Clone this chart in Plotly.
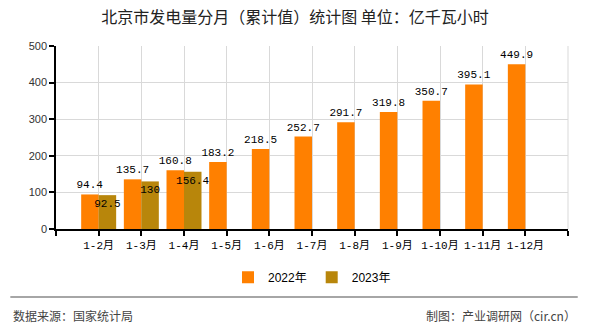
import plotly.graph_objects as go

categories = ["1-2月", "1-3月", "1-4月", "1-5月", "1-6月", "1-7月", "1-8月", "1-9月", "1-10月", "1-11月", "1-12月"]
values_2022 = [94.4, 135.7, 160.8, 183.2, 218.5, 252.7, 291.7, 319.8, 350.7, 395.1, 449.9]
values_2023 = [92.5, 130, 156.4, None, None, None, None, None, None, None, None]
series_names = ["2022年", "2023年"]
y_ticks = [0, 100, 200, 300, 400, 500]

x_pos = list(range(len(categories)))

def fmt(v):
    if v is None:
        return ""
    return ("%g" % v)

label_font = dict(family="Liberation Mono, Noto Sans CJK SC, monospace", size=11, color="#000000")

fig = go.Figure()
fig.add_trace(go.Bar(
    x=x_pos, y=values_2022, name=series_names[0],
    marker=dict(color="#FF8000", line=dict(width=0)),
    text=[fmt(v) for v in values_2022], textposition="outside", textangle=0,
    textfont=label_font, constraintext="none", cliponaxis=False,
))
fig.add_trace(go.Bar(
    x=x_pos, y=values_2023, name=series_names[1],
    marker=dict(color="#B8860B", line=dict(width=0)),
    text=[fmt(v) for v in values_2023], textposition="inside", insidetextanchor="end", textangle=0,
    textfont=label_font, constraintext="none", cliponaxis=False,
))

tickvals = [-1] + x_pos + [len(categories)]
ticktext = [""] + categories + [""]

fig.update_layout(
    width=590, height=330,
    margin=dict(l=56, r=22, t=46, b=101, pad=0),
    paper_bgcolor="white", plot_bgcolor="white",
    barmode="group", bargap=0.18, bargroupgap=0,
    title=dict(
        text="北京市发电量分月（累计值）统计图 单位：亿千瓦小时",
        x=0.5, xanchor="center", y=1 - 17 / 330, yanchor="middle", yref="container",
        font=dict(family="Noto Sans CJK SC", size=16, color="#222222"),
    ),
    xaxis=dict(
        range=[-1, len(categories)], tickmode="array", tickvals=tickvals, ticktext=ticktext,
        tickangle=0,
        showgrid=True, gridcolor="#d9d9d9", gridwidth=1,
        showline=True, linecolor="#000000", linewidth=1.5,
        ticks="outside", ticklen=5, tickcolor="#000000", tickwidth=1.5,
        tickfont=dict(family="Liberation Mono, Noto Sans CJK SC", size=11, color="#000000"),
        zeroline=False, fixedrange=True,
    ),
    yaxis=dict(
        range=[0, 500], tickmode="array", tickvals=y_ticks,
        showgrid=True, gridcolor="#d9d9d9", gridwidth=1,
        showline=True, linecolor="#000000", linewidth=1.5,
        ticks="outside", ticklen=5, tickcolor="#000000", tickwidth=1.5,
        tickfont=dict(family="Liberation Sans, Arial", size=11, color="#333333"),
        zeroline=False, fixedrange=True,
    ),
    legend=dict(
        orientation="h", x=0.5, xanchor="center", y=-0.263, yanchor="middle",
        font=dict(family="Liberation Sans, Noto Sans CJK SC", size=12, color="#000000"),
        itemwidth=30, bgcolor="rgba(0,0,0,0)",
    ),
    showlegend=True,
)

# right border line
fig.add_shape(type="line", xref="paper", yref="paper", x0=1, x1=1, y0=0, y1=1,
              line=dict(color="#d9d9d9", width=1))

# footer separator
fig.add_shape(type="line", xref="paper", yref="paper", x0=-0.0892, x1=1.019, y0=-0.371, y1=-0.371,
              line=dict(color="#888888", width=1.5))

fig.add_annotation(text="数据来源：国家统计局", xref="paper", yref="paper", x=-0.087, y=-0.473,
                   xanchor="left", yanchor="middle", showarrow=False,
                   font=dict(family="Noto Sans CJK SC", size=12, color="#444444"))
fig.add_annotation(text="制图：产业调研网（cir.cn）", xref="paper", yref="paper", x=1.019, y=-0.473,
                   xanchor="right", yanchor="middle", showarrow=False,
                   font=dict(family="Noto Sans CJK SC", size=12, color="#444444"))

fig.write_html("out.html")
